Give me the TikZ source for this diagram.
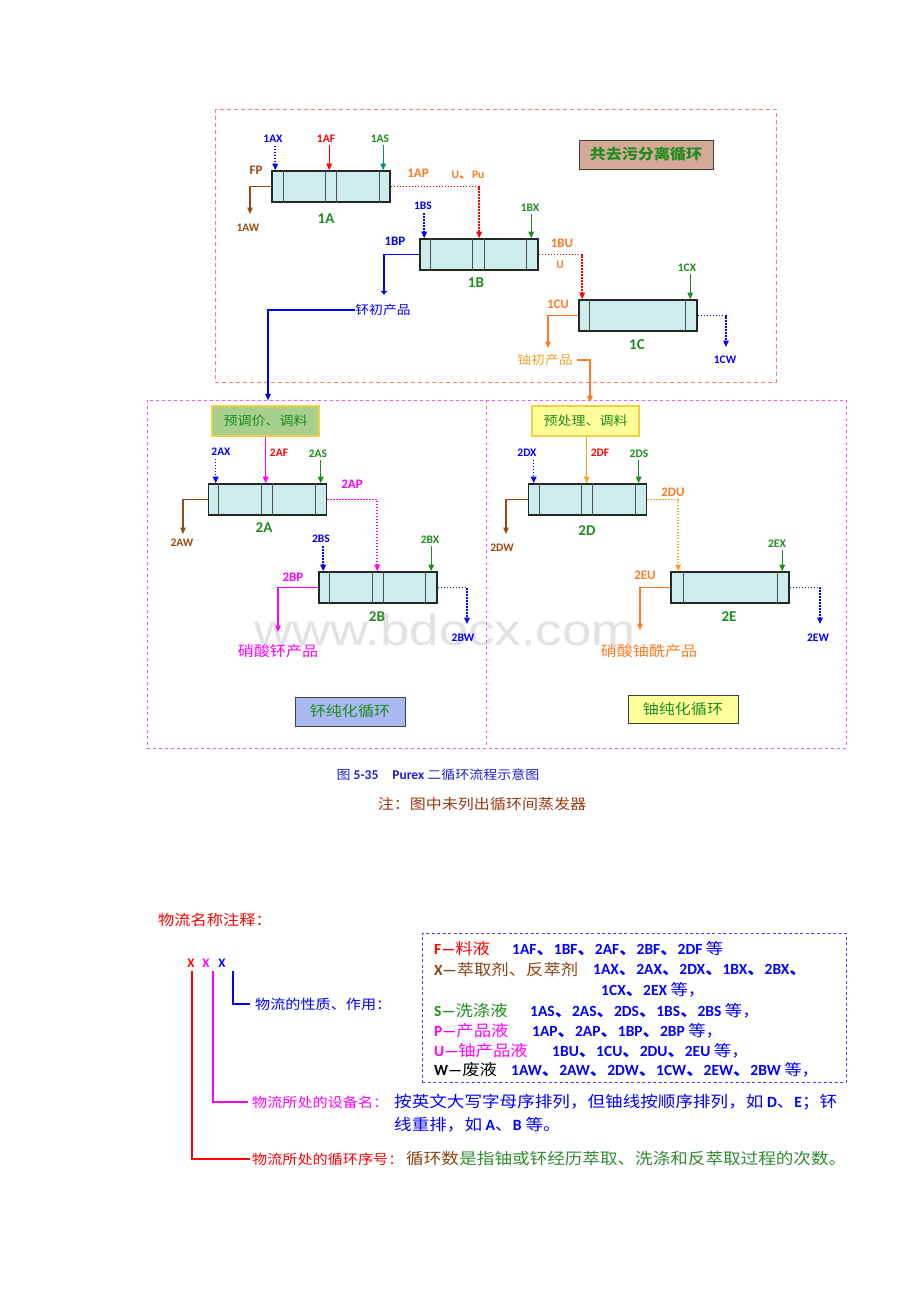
\documentclass[tikz,border=0pt]{standalone}
\usepackage{fontspec}
\usepackage{graphicx}
\setmainfont{Carlito}
\newfontfamily\cjk[FakeStretch=1.12]{Noto Sans CJK SC}
\newfontfamily\wmfont{Liberation Sans}
\usetikzlibrary{arrows.meta}
\definecolor{cblue}{HTML}{0000FF}
\definecolor{cred}{HTML}{FF0000}
\definecolor{cgreen}{HTML}{1E8C1E}
\definecolor{cteal}{HTML}{00908C}
\definecolor{corange}{HTML}{FF7A22}
\definecolor{camber}{HTML}{FFA020}
\definecolor{clorange}{HTML}{F2A035}
\definecolor{cbrown}{HTML}{9A4A10}
\definecolor{cmag}{HTML}{FF00FF}
\definecolor{boxfill}{HTML}{CDEDED}
\definecolor{frred}{HTML}{FF7878}
\definecolor{frmag}{HTML}{FF50FF}
\definecolor{wmgray}{HTML}{E2E2E2}
\definecolor{capblue}{HTML}{1E1ED2}
\definecolor{notebrown}{HTML}{9A3A10}
\definecolor{rosy}{HTML}{D4A995}
\definecolor{pregreen}{HTML}{A8D08D}
\definecolor{preyellow}{HTML}{FFFF99}
\definecolor{byellow}{HTML}{F2D046}
\definecolor{peri}{HTML}{AAB8F2}
\definecolor{lgbrown}{HTML}{8B4513}
\definecolor{lggreen}{HTML}{2E8B2E}
\newcommand\dun{{\cjk 、}}
\newcommand\extlines[2]{\foreach \o in {#2}{\draw[innerln] ([xshift=\o pt]#1.north west) -- ([xshift=\o pt]#1.south west);}}
\tikzset{
 ext/.style={draw=black!85, line width=1.6pt, fill=boxfill, minimum width=118pt, minimum height=31pt, inner sep=0pt},
 innerln/.style={draw=black!70, line width=1.2pt},
 lbls/.style={font=\bfseries\fontsize{11.5}{12}\selectfont, inner sep=0pt},
 lblm/.style={font=\bfseries\fontsize{13}{14}\selectfont, inner sep=0pt},
 lblb/.style={font=\bfseries\fontsize{15}{16}\selectfont, inner sep=0pt, text=cgreen},
 tipend/.style={-{Triangle[length=6.5pt,width=5.5pt]}},
 solidarr/.style={line width=1.3pt, tipend},
 dotarr/.style={line width=1.5pt, dash pattern=on 1.5pt off 1.5pt, tipend},
 cjkl/.style={font=\cjk\fontsize{12.3}{13}\selectfont, inner sep=0pt},
 cjkm/.style={font=\cjk\fontsize{14.3}{15}\selectfont, inner sep=0pt},
 tagbox/.style={font=\cjk\bfseries\fontsize{14.3}{15}\selectfont, text=cgreen, inner sep=0pt},
 lg/.style={font=\fontsize{15.5}{17}\selectfont, inner sep=0pt, anchor=west},
 lgline/.style={line width=1.8pt},
}
\begin{document}
\begin{tikzpicture}[x=1pt,y=-1pt]
\useasboundingbox (0,0) rectangle (920,1302);
\fill[white] (0,0) rectangle (920,1302);

% watermark
\node[font=\wmfont\fontsize{44}{44}\selectfont, text=wmgray, inner sep=0pt] (wm) at (445,630) {\scalebox{1.2}[1]{www.bdocx.com}};

% frames
\draw[frred, line width=1pt, dash pattern=on 4pt off 3pt] (215,109) rectangle (776,382);
\draw[frmag, line width=0.9pt, dash pattern=on 3pt off 3pt] (147,400) rectangle (846,748);
\draw[frmag, line width=0.9pt, dash pattern=on 3pt off 3pt] (486,400) -- (486,748);

% ===== cycle 1 =====
\node[draw=black!75, line width=1pt, fill=rosy, minimum width=134pt, minimum height=29pt, tagbox] (t1) at (646,154.5) {共去污分离循环};

\node[ext] (A1) at (331,186.5) {};
\extlines{A1}{12,54,65,108}
\node[ext] (B1) at (479,254.5) {};
\extlines{B1}{11,53,65,107}
\node[ext] (C1) at (638,315.5) {};
\extlines{C1}{11,107}

\node[lbls, text=cblue] (l1AX) at (273,139) {1AX};
\node[lbls, text=cred] (l1AF) at (326,139) {1AF};
\node[lbls, text=cgreen] (l1AS) at (380,139) {1AS};
\node[lblm, text=cbrown] (lFP) at (256,170) {FP};
\node[lbls, text=cbrown] (l1AW) at (248,228) {1AW};
\node[lblb] (n1A) at (326,219) {1A};
\node[lblm, text=corange] (l1AP) at (418,173) {1AP};
\node[lbls, text=corange] (lUPu) at (468,175) {U\dun Pu};
\node[lbls, text=cblue] (l1BS) at (423,206) {1BS};
\node[lbls, text=cgreen] (l1BX) at (530,208) {1BX};
\node[lblm, text=cblue] (l1BP) at (395,241) {1BP};
\node[lblb] (n1B) at (476,283) {1B};
\node[lblm, text=corange] (l1BU) at (562,243) {1BU};
\node[lbls, text=corange] (lU) at (560,265) {U};
\node[lbls, text=cgreen] (l1CX) at (687,268) {1CX};
\node[lblm, text=corange] (l1CU) at (558,304) {1CU};
\node[lblb] (n1C) at (637,345) {1C};
\node[lbls, text=cblue] (l1CW) at (725,360) {1CW};
\node[cjkl, text=cblue] (tPu) at (383,310) {钚初产品};
\node[cjkl, text=clorange] (tU) at (545,360) {铀初产品};

\coordinate (eFP) at (250,214);
\coordinate (e1BP) at (384,295);
\coordinate (e1CU) at (548,348);
\coordinate (e1CW) at (726,347);

\draw[dotarr, cblue, shorten <=3pt] ([xshift=4pt]A1.north west |- l1AX.south) -- ([xshift=4pt]A1.north west);
\draw[solidarr, cred, shorten <=2pt] ([xshift=58pt]A1.north west |- l1AF.south) -- ([xshift=58pt]A1.north west);
\draw[solidarr, cteal, shorten <=2pt] ([xshift=112pt]A1.north west |- l1AS.south) -- ([xshift=112pt]A1.north west);
\draw[solidarr, cbrown] (A1.west) -| (eFP);
\draw[dotarr, cred] (A1.east) -| ([xshift=60pt]B1.north west);
\draw[dotarr, cblue, shorten <=3pt] ([xshift=5pt]B1.north west |- l1BS.south) -- ([xshift=5pt]B1.north west);
\draw[solidarr, cgreen, shorten <=2pt] ([xshift=112pt]B1.north west |- l1BX.south) -- ([xshift=112pt]B1.north west);
\draw[line width=1.3pt, cblue, -{Bar[width=6pt,line width=0.8pt] Triangle[length=3.5pt,width=4.5pt]}] (B1.west) -| (e1BP);
\draw[dotarr, cred] (B1.east) -| ([xshift=4pt]C1.north west);
\draw[solidarr, cgreen, shorten <=2pt] ([xshift=112pt]C1.north west |- l1CX.south) -- ([xshift=112pt]C1.north west);
\draw[solidarr, corange] (C1.west) -| (e1CU);
\draw[dotarr, cblue] (C1.east) -| (e1CW);

% ===== cycle 2 : Pu =====
\node[draw=byellow, line width=1.2pt, fill=pregreen, minimum width=107pt, minimum height=30pt, font=\cjk\fontsize{12.5}{13}\selectfont, text=cgreen, inner sep=0pt] (pre1) at (265.5,421) {预调价、调料};
\node[ext] (A2) at (267.5,499.5) {};
\extlines{A2}{11,54,65,108}
\node[ext] (B2) at (378,587.5) {};
\extlines{B2}{11,54,65,107}

\node[lbls, text=cblue] (l2AX) at (221,452) {2AX};
\node[lbls, text=cred] (l2AF) at (279,453) {2AF};
\node[lbls, text=cgreen] (l2AS) at (318,454) {2AS};
\node[lblb] (n2A) at (264,528) {2A};
\node[lblm, text=cmag] (l2AP) at (352,484) {2AP};
\node[lbls, text=cbrown] (l2AW) at (182,543) {2AW};
\node[lbls, text=cblue] (l2BS) at (321,539) {2BS};
\node[lbls, text=cgreen] (l2BX) at (430,540) {2BX};
\node[lblm, text=cmag] (l2BP) at (293,577) {2BP};
\node[lblb] (n2B) at (377,617) {2B};
\node[lbls, text=cblue] (l2BW) at (463,638) {2BW};
\node[cjkm, text=cmag] (tPuN) at (278,651) {硝酸钚产品};
\node[draw=black!75, line width=1pt, fill=peri, minimum width=110pt, minimum height=29pt, tagbox, font=\cjk\fontsize{14.3}{15}\selectfont] (t2) at (350,711.5) {钚纯化循环};

\coordinate (e2AW) at (183,534);
\coordinate (e2BP) at (278,632);
\coordinate (e2BW) at (467,624);

\draw[solidarr, cblue, shorten >=5pt] (tPu.west) -| ([xshift=2.5pt]pre1.north);
\draw[dotarr, cblue, shorten <=3pt] ([xshift=8pt]A2.north west |- l2AX.south) -- ([xshift=8pt]A2.north west);
\draw[solidarr, cmag] ([xshift=58pt]A2.north west |- pre1.south) -- ([xshift=58pt]A2.north west);
\draw[solidarr, cgreen, shorten <=2pt] ([xshift=113pt]A2.north west |- l2AS.south) -- ([xshift=113pt]A2.north west);
\draw[solidarr, cbrown] (A2.west) -| (e2AW);
\draw[dotarr, cmag] (A2.east) -| ([xshift=59pt]B2.north west);
\draw[dotarr, cblue, shorten <=3pt] ([xshift=5pt]B2.north west |- l2BS.south) -- ([xshift=5pt]B2.north west);
\draw[solidarr, cgreen, shorten <=2pt] ([xshift=113pt]B2.north west |- l2BX.south) -- ([xshift=113pt]B2.north west);
\draw[solidarr, cmag] (B2.west) -| (e2BP);
\draw[dotarr, cblue] (B2.east) -| (e2BW);

% ===== cycle 2 : U =====
\node[draw=byellow, line width=1.2pt, fill=preyellow, minimum width=107pt, minimum height=30pt, font=\cjk\fontsize{12.5}{13}\selectfont, text=cgreen, inner sep=0pt] (pre2) at (585.5,421) {预处理、调料};
\node[ext] (D2) at (587.5,499.5) {};
\extlines{D2}{12,54,65,108}
\node[ext] (E2) at (730,587.5) {};
\extlines{E2}{13,107}

\node[lbls, text=cblue] (l2DX) at (527,453) {2DX};
\node[lbls, text=cred] (l2DF) at (600,453) {2DF};
\node[lbls, text=cgreen] (l2DS) at (639,454) {2DS};
\node[lblb] (n2D) at (587,531) {2D};
\node[lblm, text=corange] (l2DU) at (673,492) {2DU};
\node[lbls, text=cbrown] (l2DW) at (502,548) {2DW};
\node[lbls, text=cgreen] (l2EX) at (777,544) {2EX};
\node[lblm, text=corange] (l2EU) at (645,575) {2EU};
\node[lblb] (n2E) at (729,617) {2E};
\node[lbls, text=cblue] (l2EW) at (818,638) {2EW};
\node[cjkm, text=corange] (tUN) at (649,651) {硝酸铀酰产品};
\node[draw=black!75, line width=1pt, fill=preyellow, minimum width=110pt, minimum height=28pt, tagbox, font=\cjk\fontsize{14.3}{15}\selectfont] (t3) at (683,709) {铀纯化循环};

\coordinate (e2DW) at (506,534);
\coordinate (e2EU) at (640,630);
\coordinate (e2EW) at (820,624);

\draw[solidarr, corange, shorten <=4pt, shorten >=3pt] (tU.east) -| ([xshift=4.5pt]pre2.north);
\draw[dotarr, cblue, shorten <=3pt] ([xshift=6pt]D2.north west |- l2DX.south) -- ([xshift=6pt]D2.north west);
\draw[solidarr, camber] ([xshift=59pt]D2.north west |- pre2.south) -- ([xshift=59pt]D2.north west);
\draw[solidarr, cgreen, shorten <=2pt] ([xshift=111pt]D2.north west |- l2DS.south) -- ([xshift=111pt]D2.north west);
\draw[solidarr, cbrown] (D2.west) -| (e2DW);
\draw[dotarr, camber] (D2.east) -| ([xshift=8pt]E2.north west);
\draw[solidarr, cgreen, shorten <=2pt] ([xshift=112pt]E2.north west |- l2EX.south) -- ([xshift=112pt]E2.north west);
\draw[solidarr, corange] (E2.west) -| (e2EU);
\draw[dotarr, cblue] (E2.east) -| (e2EW);

% captions
\node[inner sep=0pt, text=capblue, font=\fontsize{13.5}{14}\selectfont] (cap) at (438,775) {{\cjk\fontsize{12.5}{13}\selectfont 图} \textbf{5-35}\hspace{14pt}\textbf{Purex} {\cjk\fontsize{12.5}{13}\selectfont 二循环流程示意图}};
\node[inner sep=0pt, text=notebrown, font=\cjk\fontsize{14.3}{15}\selectfont] (note) at (482,804) {注：图中未列出循环间蒸发器};

% ===== legend =====
\node[anchor=west, inner sep=0pt, text=cred, font=\cjk\fontsize{14.5}{15}\selectfont] (lgt) at (158,920) {物流名称注释：};
\node[inner sep=0pt, text=cred, font=\bfseries\fontsize{13}{14}\selectfont] (xr) at (191,963) {X};
\node[inner sep=0pt, text=cmag, font=\bfseries\fontsize{13}{14}\selectfont] (xm) at (206,963) {X};
\node[inner sep=0pt, text=cblue, font=\bfseries\fontsize{13}{14}\selectfont] (xb) at (222,963) {X};

\node[anchor=west, inner sep=0pt, text=cblue, font=\cjk\fontsize{13.5}{14}\selectfont] (lb) at (255,1004) {物流的性质、作用：};
\node[anchor=west, inner sep=0pt, text=cmag, font=\cjk\fontsize{13.5}{14}\selectfont] (lm) at (252,1102) {物流所处的设备名：};
\node[anchor=west, inner sep=0pt, text=cblue, font=\cjk\fontsize{15.7}{17}\selectfont] (lm2) at (394,1102) {按英文大写字母序排列，但铀线按顺序排列，如{\fontspec{Carlito}\bfseries\ D}、{\fontspec{Carlito}\bfseries E}；钚};
\node[anchor=west, inner sep=0pt, text=cblue, font=\cjk\fontsize{15.7}{17}\selectfont] (lm3) at (394,1125) {线重排，如{\fontspec{Carlito}\bfseries\ A}、{\fontspec{Carlito}\bfseries B} 等。};
\node[anchor=west, inner sep=0pt, text=cred, font=\cjk\fontsize{13.5}{14}\selectfont] (lr) at (252,1159) {物流所处的循环序号：};
\node[anchor=west, inner sep=0pt, text=lgbrown, font=\cjk\fontsize{15.7}{17}\selectfont] (lr2) at (406,1159) {循环数};
\node[anchor=west, inner sep=0pt, text=lggreen, font=\cjk\fontsize{15.7}{17}\selectfont] (lr3) at (lr2.east) {是指铀或钚经历萃取、洗涤和反萃取过程的次数。};

\draw[lgline, cblue] ([xshift=11pt,yshift=-4pt]xb.south) |- ([xshift=-5pt]lb.west);
\draw[lgline, cmag] ([xshift=7pt,yshift=-4pt]xm.south) |- ([xshift=-4pt]lm.west);
\draw[lgline, cred] ([xshift=1pt,yshift=-4pt]xr.south) |- ([xshift=-2pt]lr.west);

\node[draw=cblue!75, line width=1pt, dash pattern=on 3pt off 2.5pt, minimum width=424pt, minimum height=149pt, inner sep=0pt] (lgbox) at (634,1007.5) {};

\node[lg, text=cred] (r1a) at (434,949) {\textbf{F—}{\cjk 料液}};
\node[lg, text=cblue] (r1b) at (512,949) {\textbf{1AF\dun 1BF\dun 2AF\dun 2BF\dun 2DF} {\cjk 等}};
\node[lg, text=lgbrown] (r2a) at (434,970) {\textbf{X—}{\cjk 萃取剂、反萃剂}};
\node[lg, text=cblue] (r2b) at (593,970) {\textbf{1AX\dun 2AX\dun 2DX\dun 1BX\dun 2BX\dun}};
\node[lg, text=cblue] (r3b) at (601,990) {\textbf{1CX\dun 2EX} {\cjk 等，}};
\node[lg, text=cgreen] (r4a) at (434,1011) {\textbf{S—}{\cjk 洗涤液}};
\node[lg, text=cblue] (r4b) at (530,1011) {\textbf{1AS\dun 2AS\dun 2DS\dun 1BS\dun 2BS} {\cjk 等，}};
\node[lg, text=cmag] (r5a) at (434,1031) {\textbf{P—}{\cjk 产品液}};
\node[lg, text=cblue] (r5b) at (532,1031) {\textbf{1AP\dun 2AP\dun 1BP\dun 2BP} {\cjk 等，}};
\node[lg, text=cmag] (r6a) at (434,1051) {\textbf{U—}{\cjk 铀产品液}};
\node[lg, text=cblue] (r6b) at (552,1051) {\textbf{1BU\dun 1CU\dun 2DU\dun 2EU} {\cjk 等，}};
\node[lg, text=black] (r7a) at (434,1070) {\textbf{W—}{\cjk 废液}};
\node[lg, text=cblue] (r7b) at (511,1070) {\textbf{1AW\dun 2AW\dun 2DW\dun 1CW\dun 2EW\dun 2BW} {\cjk 等，}};
\end{tikzpicture}
\end{document}
